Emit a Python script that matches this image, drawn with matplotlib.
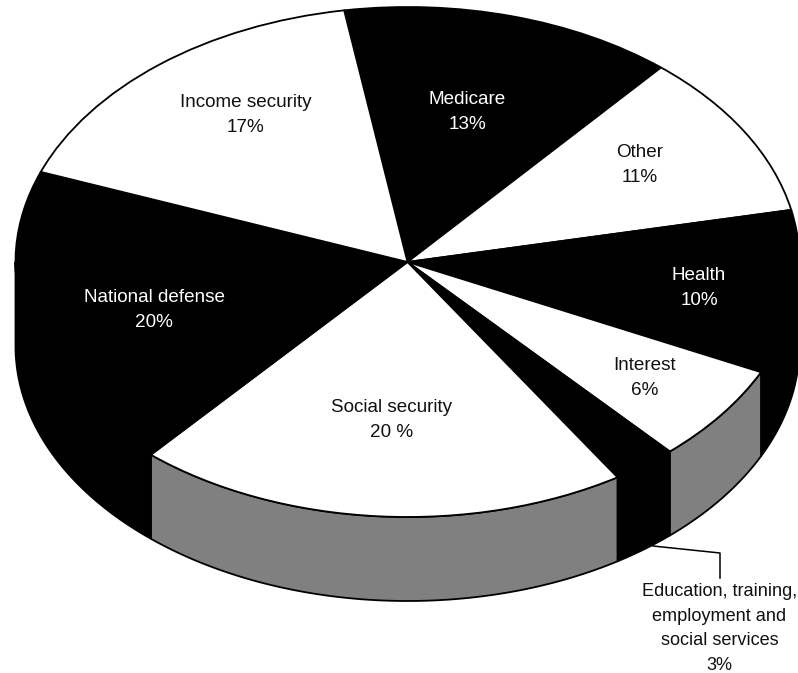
import numpy as np
import matplotlib
matplotlib.use("Agg")
import matplotlib.pyplot as plt
from matplotlib.lines import Line2D

plt.rcParams['font.family'] = ['Liberation Sans', 'DejaVu Sans']

# Data (clockwise from the Medicare slice)
categories = ["Medicare", "Other", "Health", "Interest",
              "Education, training,\nemployment and\nsocial services",
              "Social security", "National defense", "Income security"]
percent_labels = ["13%", "11%", "10%", "6%", "3%", "20 %", "20%", "17%"]
# slice shares as drawn in the picture (the drawn angles differ a little from the rounded labels)
shares = [13.78, 10.53, 10.39, 6.22, 2.67, 20.36, 19.39, 16.67]
top_colors = ["black", "white", "black", "white", "black", "white", "black", "white"]
wall_colors = ["black", "#808080", "black", "#808080", "black", "#808080", "black", "#808080"]
text_colors = ["white", "#111111", "white", "#111111", "#111111", "#111111", "white", "#111111"]

W, H = 798, 673
CX, CY, RX, RY, DEPTH = 407.5, 262, 392, 255, 84
START = 99.3

fig = plt.figure(figsize=(W / 100, H / 100), dpi=100, facecolor="white")
ax = fig.add_axes([0, 0, 1, 1])
wedges, _ = ax.pie(shares, colors=top_colors, startangle=START, counterclock=False,
                   wedgeprops=dict(edgecolor="black", linewidth=1.3, zorder=3))
ax.set_aspect("auto")
ax.set_xlim(-CX / RX, (W - CX) / RX)
ax.set_ylim((CY - H) / RY, CY / RY)
ax.set_axis_off()

depth = DEPTH / RY
for w, c in zip(wedges, wall_colors):
    t1, t2 = w.theta1 % 360, w.theta2 % 360
    if t2 <= t1:
        t2 += 360
    for lo, hi in [(180, 360), (540, 720)]:
        a, b = max(t1, lo), min(t2, hi)
        if b <= a:
            continue
        th = np.radians(np.linspace(a, b, 80))
        x, y = np.cos(th), np.sin(th)
        ax.fill(np.r_[x, x[::-1]], np.r_[y, y[::-1] - depth], facecolor=c,
                edgecolor="black", linewidth=1.3, zorder=2, joinstyle="round")


def label(px, py, name, pct, color, size, spacing):
    fig.text(px / W, 1 - py / H, f"{name}\n{pct}", ha="center", va="center",
             fontsize=size, color=color, linespacing=spacing, zorder=5)


label_xy = [(467, 112), (640, 165), (699, 288), (645, 378),
            (719.5, 628.5), (392, 420), (154, 310), (246, 115)]
label_sizes = [13.6, 13.6, 13.6, 13.6, 13.1, 13.6, 13.6, 13.6]
label_spacing = [1.62, 1.62, 1.62, 1.62, 1.6, 1.62, 1.62, 1.62]
for (px, py), n, p, c, s, sp in zip(label_xy, categories, percent_labels, text_colors,
                                    label_sizes, label_spacing):
    label(px, py, n, p, c, s, sp)

lx = np.array([653, 720, 720]) / W
ly = 1 - np.array([546, 553, 578]) / H
fig.add_artist(Line2D(lx, ly, color="black", linewidth=1.1, transform=fig.transFigure))

fig.savefig("out.png", dpi=100, facecolor="white")
